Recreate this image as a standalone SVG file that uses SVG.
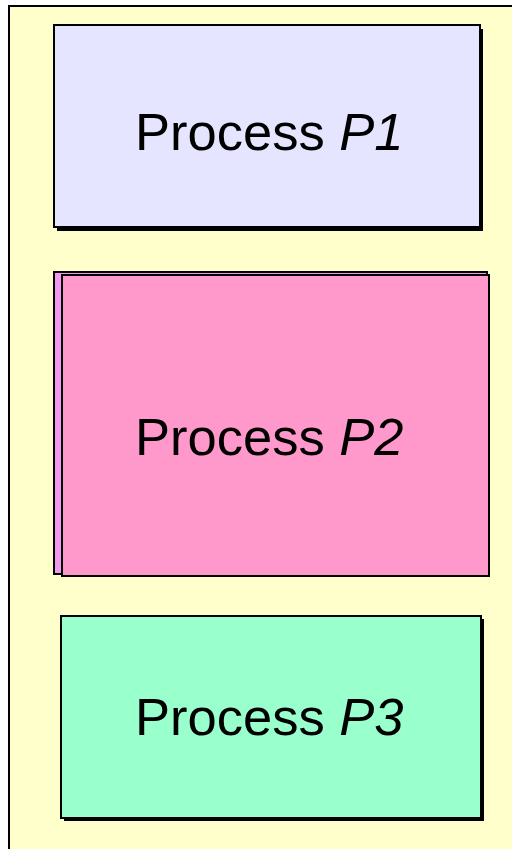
<svg xmlns="http://www.w3.org/2000/svg" width="512" height="849" viewBox="0 0 512 849">
<style>
.box{stroke:#000;stroke-width:2}
.sh{fill:#000}
.lbl{font-family:"Liberation Sans",Arial,sans-serif;font-size:52.5px;fill:#000}
.it{font-style:italic}
</style>
<rect width="512" height="849" fill="#fff"/>
<g id="container">
<rect x="9" y="6" width="520" height="870" fill="#FFFFCC" stroke="#000" stroke-width="2"/>
</g>
<g id="p1">
<rect class="sh" x="57" y="29" width="426" height="202"/>
<rect class="box" x="54" y="25" width="426" height="202" fill="#E5E5FF"/>
<text class="lbl" x="135" y="150">Process <tspan class="it">P1</tspan></text>
</g>
<g id="p2">
<rect class="box" x="54" y="272" width="433" height="302" fill="#F099F0"/>
<rect class="box" x="62" y="275" width="427" height="301" fill="#FF99CC"/>
<text class="lbl" x="135" y="455">Process <tspan class="it">P2</tspan></text>
</g>
<g id="p3">
<rect class="sh" x="64" y="619" width="420" height="202"/>
<rect class="box" x="61" y="616" width="420" height="202" fill="#99FFCC"/>
<text class="lbl" x="135" y="735">Process <tspan class="it">P3</tspan></text>
</g>
<g id="connectors"></g>
</svg>
